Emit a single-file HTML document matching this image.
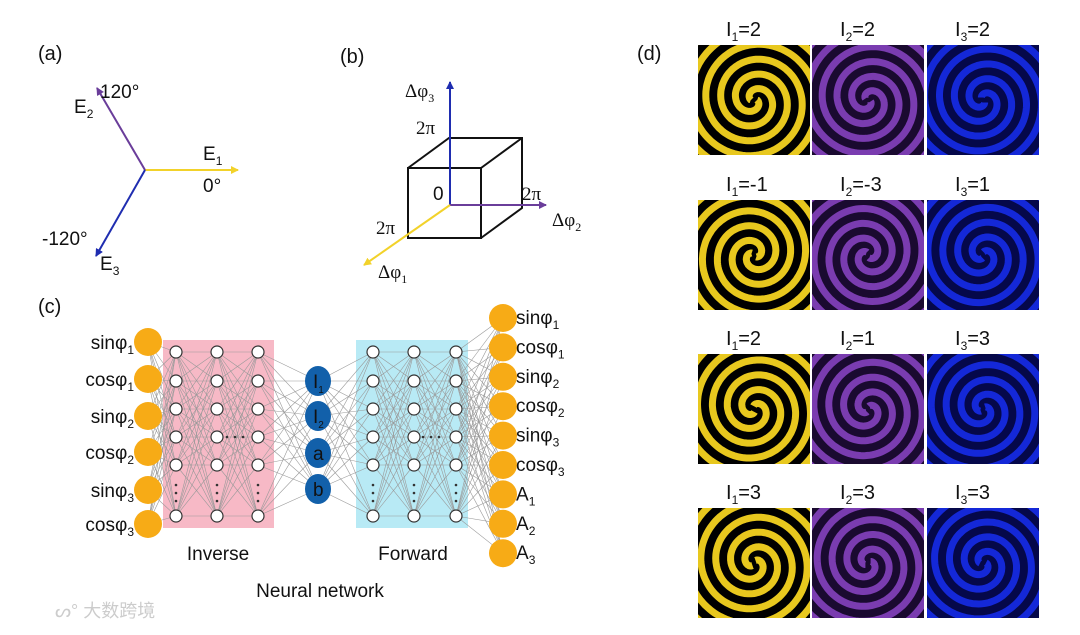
<!DOCTYPE html>
<html><head><meta charset="utf-8"><style>
html,body{margin:0;padding:0;background:#fff;}
svg{display:block;font-family:"Liberation Sans",Arial,sans-serif;}
</style></head><body>
<svg id="s" width="1080" height="635" viewBox="0 0 1080 635" xmlns="http://www.w3.org/2000/svg">
<defs>
<marker id="ay" markerWidth="8" markerHeight="8" refX="7" refY="4" orient="auto" markerUnits="userSpaceOnUse"><path d="M0,0 L8,4 L0,8 z" fill="#f2d22a"/></marker>
<marker id="ap" markerWidth="8" markerHeight="8" refX="7" refY="4" orient="auto" markerUnits="userSpaceOnUse"><path d="M0,0 L8,4 L0,8 z" fill="#6a3d9a"/></marker>
<marker id="ab" markerWidth="8" markerHeight="8" refX="7" refY="4" orient="auto" markerUnits="userSpaceOnUse"><path d="M0,0 L8,4 L0,8 z" fill="#1f2db0"/></marker>
</defs>
<g font-size="20" fill="#111">
<text x="38" y="60">(a)</text>
<text x="340" y="63">(b)</text>
<text x="38" y="313">(c)</text>
<text x="637" y="60">(d)</text>
</g>
<line x1="145" y1="170" x2="238" y2="170" stroke="#f2d22a" stroke-width="2" marker-end="url(#ay)"/>
<line x1="145" y1="170" x2="97" y2="88" stroke="#6a3d9a" stroke-width="2" marker-end="url(#ap)"/>
<line x1="145" y1="170" x2="96" y2="256" stroke="#1f2db0" stroke-width="2" marker-end="url(#ab)"/>
<g font-size="19" fill="#111">
<text x="203" y="160">E<tspan font-size="12" dy="5">1</tspan></text>
<text x="203" y="192">0°</text>
<text x="74" y="113">E<tspan font-size="12" dy="5">2</tspan></text>
<text x="100" y="98">120°</text>
<text x="42" y="245">-120°</text>
<text x="100" y="270">E<tspan font-size="12" dy="5">3</tspan></text>
</g>
<g stroke="#111" stroke-width="2" fill="none">
<rect x="408" y="168" width="73" height="70"/>
<path d="M408,168 L449,138 L522,138 L522,208 L481,238 M481,168 L522,138"/>
</g>
<line x1="450" y1="205" x2="450" y2="82" stroke="#1f2db0" stroke-width="2" marker-end="url(#ab)"/>
<line x1="450" y1="205" x2="546" y2="205" stroke="#6a3d9a" stroke-width="2" marker-end="url(#ap)"/>
<line x1="450" y1="205" x2="364" y2="265" stroke="#f2d22a" stroke-width="2" marker-end="url(#ay)"/>
<g font-size="19" fill="#111" font-family="Liberation Serif,serif">
<text x="405" y="97">Δφ<tspan font-size="12" dy="5">3</tspan></text>
<text x="416" y="134">2π</text>
<text x="433" y="200" font-family="Liberation Sans,sans-serif">0</text>
<text x="522" y="200">2π</text>
<text x="552" y="226">Δφ<tspan font-size="12" dy="5">2</tspan></text>
<text x="376" y="234">2π</text>
<text x="378" y="278">Δφ<tspan font-size="12" dy="5">1</tspan></text>
</g>
<rect x="163" y="340" width="111" height="188" fill="#f7b9c6"/>
<rect x="356" y="340" width="112" height="188" fill="#b8eaf5"/>
<g id="edges" stroke="#9a9a9a" stroke-width="0.6"></g>
<g id="nodes"></g>
<g font-size="19" fill="#111" text-anchor="middle">
<text x="218" y="560">Inverse</text>
<text x="413" y="560">Forward</text>
<text x="320" y="597">Neural network</text>
</g>
<text x="55" y="617" font-size="18" fill="#ccc" font-family="Liberation Sans,'Noto Sans CJK SC',sans-serif">ᔕ° 大数跨境</text>
<g id="spirals"></g>
<g id="dlabels" font-size="20" fill="#111"></g>
</svg>
<script>
var NS="http://www.w3.org/2000/svg";
function el(t,a,p,txt){var e=document.createElementNS(NS,t);for(var k in a)e.setAttribute(k,a[k]);if(txt!==undefined)e.innerHTML=txt;(p||document.getElementById('s')).appendChild(e);return e;}
var E=document.getElementById('edges'),N=document.getElementById('nodes');
var L=[342,379,416,452,490,524];
var H=[352,381,409,437,465,516];
var B=[381,416,453,489];
var R=[];for(var i=0;i<9;i++)R.push(318+i*29.4);
var cols=[[148,L],[176,H],[217,H],[258,H],[318,B],[373,H],[414,H],[456,H],[503,R]];
for(var c=0;c<cols.length-1;c++){var a=cols[c],b=cols[c+1];a[1].forEach(function(y1){b[1].forEach(function(y2){el('line',{x1:a[0],y1:y1,x2:b[0],y2:y2},E);});});}
[176,217,258,373,414,456].forEach(function(x){H.forEach(function(y){el('circle',{cx:x,cy:y,r:6,fill:'#fff',stroke:'#333','stroke-width':1.2},N);});
for(var k=0;k<3;k++)el('circle',{cx:x,cy:485+k*8,r:1.3,fill:'#333'},N);});
for(var k=0;k<3;k++){el('circle',{cx:227+k*8,cy:437,r:1.3,fill:'#333'},N);el('circle',{cx:423+k*8,cy:437,r:1.3,fill:'#333'},N);}
var ll=['sin','cos','sin','cos','sin','cos'],ln=[1,1,2,2,3,3];
L.forEach(function(y,i){el('circle',{cx:148,cy:y,r:14,fill:'#f7ab16'},N);
el('text',{x:134,y:y+7,'font-size':19,'text-anchor':'end',fill:'#111'},N,ll[i]+'φ<tspan font-size="12" dy="5">'+ln[i]+'</tspan>');});
var bl=['I<tspan font-size="10" dy="5">1</tspan>','I<tspan font-size="10" dy="5">2</tspan>','a','b'];
B.forEach(function(y,i){el('ellipse',{cx:318,cy:y,rx:13,ry:15,fill:'#1260aa'},N);el('text',{x:313,y:y+7,'font-size':19,fill:'#111'},N,bl[i]);});
var rl=['sinφ','cosφ','sinφ','cosφ','sinφ','cosφ','A','A','A'],rn=[1,1,2,2,3,3,1,2,3];
R.forEach(function(y,i){el('circle',{cx:503,cy:y,r:14,fill:'#f7ab16'},N);
el('text',{x:516,y:y+6,'font-size':19,fill:'#111'},N,rl[i]+'<tspan font-size="12" dy="5">'+rn[i]+'</tspan>');});
var S=document.getElementById('spirals'),DL=document.getElementById('dlabels');
var xs=[698,812,927],ys=[45,200,354,508];
var cl=[['#e8c81e','#000'],['#7a3cb0','#1a0a30'],['#1428d8','#05084a']];
var labs=[[2,2,2],[-1,-3,1],[2,1,3],[3,3,3]];
var cid=0;
ys.forEach(function(y,r){xs.forEach(function(x,c){
var w=112,h=110,cx=x+w/2,cy=y+h/2;
var id='cp'+(cid++);var cp=el('clipPath',{id:id},S);el('rect',{x:x,y:y,width:w,height:h},cp);
var g=el('g',{'clip-path':'url(#'+id+')'},S);
el('rect',{x:x,y:y,width:w,height:h,fill:cl[c][1]},g);
var dir=(labs[r][c]<0)?-1:1;
for(var arm=0;arm<2;arm++){var d='';for(var t=0;t<=20;t+=0.05){var rr=3+t*30/(2*Math.PI);var an=dir*t+arm*Math.PI+r*0.7+c*0.5;d+=(t==0?'M':'L')+(cx+rr*Math.cos(an)).toFixed(1)+','+(cy+rr*Math.sin(an)).toFixed(1);}
el('path',{d:d,fill:'none',stroke:cl[c][0],'stroke-width':7},g);}
var v=labs[r][c];
el('text',{x:x+28,y:y-9},DL,'I<tspan font-size="12" dy="5">'+(c+1)+'</tspan><tspan dy="-5">='+v+'</tspan>');
});});
</script>
</body></html>
